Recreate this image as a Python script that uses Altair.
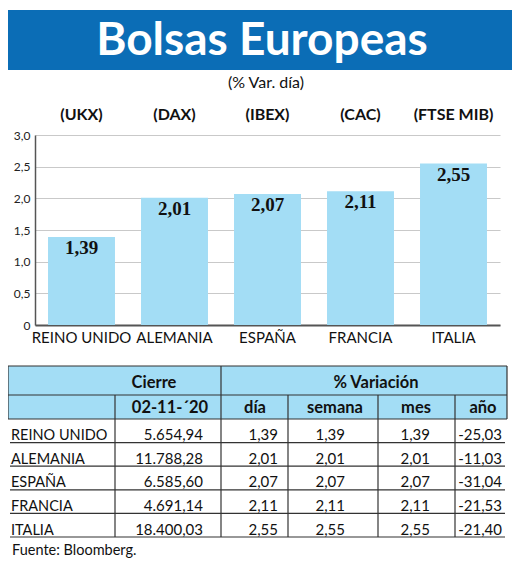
import altair as alt
import pandas as pd

# ---------------- data ----------------
countries = ["REINO UNIDO", "ALEMANIA", "ESPAÑA", "FRANCIA", "ITALIA"]
tickers = ["(UKX)", "(DAX)", "(IBEX)", "(CAC)", "(FTSE MIB)"]
var_dia = [1.39, 2.01, 2.07, 2.11, 2.55]
y_ticks = [0.0, 0.5, 1.0, 1.5, 2.0, 2.5, 3.0]

cierre = ["5.654,94", "11.788,28", "6.585,60", "4.691,14", "18.400,03"]
dia = ["1,39", "2,01", "2,07", "2,11", "2,55"]
semana = ["1,39", "2,01", "2,07", "2,11", "2,55"]
mes = ["1,39", "2,01", "2,07", "2,11", "2,55"]
anio = ["-25,03", "-11,03", "-31,04", "-21,53", "-21,40"]

header1 = ["Cierre", "% Variación"]
header2 = ["02-11-´20", "día", "semana", "mes", "año"]

title_text = "Bolsas Europeas"
subtitle_text = "(% Var. día)"
source_text = "Fuente: Bloomberg."

# ---------------- layout / style ----------------
PLOT_W, PLOT_H = 465, 190
PAD = {"left": 27, "top": 127, "right": 12, "bottom": 234}
BLUE = "#0b6db6"
LIGHT = "#a3ddf5"
LINE = "#333333"
FN = "Lato, 'DejaVu Sans Condensed', sans-serif"
FS = "'Liberation Serif', 'DejaVu Serif', serif"

# table geometry (table units -> pixels via its own scales)
T_W, T_H = 499, 171
TX = alt.Scale(domain=[0, T_W], range=[-27, 472])
TY = alt.Scale(domain=[0, T_H], range=[231, 402])
col_edges = [0, 107, 213, 280, 370, 447, 499]
h1_x = [146, 368]
h2_x = [162, 247, 327, 408, 475]
num_x = [195, 270, 337, 422, 494]
H1_B, H2_B = 29, 53
ROW_H = (T_H - H2_B) / 5

# ---------------- bar chart ----------------
bars_df = pd.DataFrame({"pais": countries, "ticker": tickers, "v": var_dia})
x_axis = alt.Axis(labelAngle=0, labelFont=FN, labelFontSize=15,
                  labelColor="#111", labelPadding=5, ticks=False,
                  domainColor="#555", domainWidth=2, grid=False,
                  labelOverlap=False)
y_axis = alt.Axis(values=y_ticks, ticks=False, labelFont=FN,
                  labelFontSize=12, labelColor="#222", labelPadding=5,
                  labelOverlap=False, tickCount=7,
                  labelExpr="datum.value == 0 ? '0' : replace(format(datum.value, '.1f'), '.', ',')",
                  domainColor="#555", domainWidth=1.5,
                  gridColor="#c9c9c9", gridWidth=1)
x_scale = alt.Scale(paddingInner=0.28, paddingOuter=0.14)
y_scale = alt.Scale(domain=[0, 3], nice=False)
xs = alt.X("pais:N", sort=countries, title=None, scale=x_scale, axis=x_axis)
ys = alt.Y("v:Q", title=None, scale=y_scale, axis=y_axis)

base = alt.Chart(bars_df)
bars = base.mark_bar(color=LIGHT).encode(x=xs, y=ys)
vals = base.transform_calculate(
    lab="replace(format(datum.v, '.2f'), '.', ',')"
).mark_text(font=FS, fontWeight="bold", fontSize=19, color="#111",
            baseline="alphabetic", dy=17).encode(x=xs, y=ys, text="lab:N")
tick_lbl = base.mark_text(font=FN, fontWeight="bold", fontSize=16, color="#111",
                          baseline="alphabetic").encode(
    x=xs, y=alt.value(-15), text="ticker:N")
bar_layer = alt.layer(bars, vals, tick_lbl)

# ---------------- header decorations ----------------
one = pd.DataFrame({"t": [title_text], "s": [subtitle_text], "f": [source_text]})
dec = alt.Chart(one)
title_box = dec.mark_rect(color=BLUE).encode(
    x=alt.value(-27), x2=alt.value(477), y=alt.value(-125), y2=alt.value(-65))
title = dec.mark_text(font=FN, fontWeight="bold", fontSize=46, color="white",
                      baseline="alphabetic", align="center").encode(
    x=alt.value(227), y=alt.value(-80), text="t:N")
subtitle = dec.mark_text(font=FN, fontSize=16, color="#111",
                         baseline="alphabetic", align="center").encode(
    x=alt.value(231), y=alt.value(-47), text="s:N")
source = dec.mark_text(font=FN, fontSize=14.5, color="#111",
                       baseline="alphabetic", align="left").encode(
    x=alt.value(-23), y=alt.value(420), text="f:N")
dec_layer = alt.layer(title_box, title, subtitle, source)

# ---------------- table ----------------
fill_df = pd.DataFrame({"x": [0], "x2": [T_W], "y": [0], "y2": [H2_B]})
rules = []
rules += [(0, T_W, 0, 0), (0, T_W, H1_B, H1_B), (0, T_W, H2_B, H2_B)]
rules += [(0, 0, 0, H2_B), (T_W, T_W, 0, H2_B), (col_edges[2], col_edges[2], 0, T_H)]
for e in [col_edges[1], col_edges[3], col_edges[4], col_edges[5]]:
    rules.append((e, e, H1_B, T_H))
for i in range(5):
    yb = H2_B + ROW_H * (i + 1)
    rules.append((2, T_W - 2, yb, yb))
rules_df = pd.DataFrame(rules, columns=["x", "x2", "y", "y2"])

hdr_rows = [(t, x, H1_B - 7) for t, x in zip(header1, h1_x)]
hdr_rows += [(t, x, H2_B - 6) for t, x in zip(header2, h2_x)]
hdr_df = pd.DataFrame(hdr_rows, columns=["text", "x", "y"])

ctry_df = pd.DataFrame({"text": countries, "x": [3] * 5,
                        "y": [H2_B + ROW_H * (i + 1) - 2.5 for i in range(5)]})
num_rows = []
for i in range(5):
    yb = H2_B + ROW_H * (i + 1) - 2.5
    for col, x in zip([cierre, dia, semana, mes, anio], num_x):
        num_rows.append((col[i], x, yb))
num_df = pd.DataFrame(num_rows, columns=["text", "x", "y"])

t_fill = alt.Chart(fill_df).mark_rect(color=LIGHT).encode(
    x=alt.X("x:Q", scale=TX, axis=None), x2="x2:Q",
    y=alt.Y("y:Q", scale=TY, axis=None), y2="y2:Q")
t_rules = alt.Chart(rules_df).mark_rule(color=LINE, strokeWidth=1.2).encode(
    x=alt.X("x:Q", scale=TX, axis=None), x2="x2:Q",
    y=alt.Y("y:Q", scale=TY, axis=None), y2="y2:Q")
t_hdr = alt.Chart(hdr_df).mark_text(font=FN, fontWeight="bold", fontSize=16.5,
                                    color="#111", align="center",
                                    baseline="alphabetic").encode(
    x=alt.X("x:Q", scale=TX, axis=None), y=alt.Y("y:Q", scale=TY, axis=None),
    text="text:N")
t_ctry = alt.Chart(ctry_df).mark_text(font=FN, fontSize=14.5, color="#111",
                                      align="left", baseline="alphabetic").encode(
    x=alt.X("x:Q", scale=TX, axis=None), y=alt.Y("y:Q", scale=TY, axis=None),
    text="text:N")
t_num = alt.Chart(num_df).mark_text(font=FN, fontSize=15, color="#111",
                                    align="right", baseline="alphabetic").encode(
    x=alt.X("x:Q", scale=TX, axis=None), y=alt.Y("y:Q", scale=TY, axis=None),
    text="text:N")
table_layer = alt.layer(t_fill, t_rules, t_hdr, t_ctry, t_num)

chart = alt.layer(bar_layer, dec_layer, table_layer).resolve_scale(
    x="independent", y="independent"
).properties(
    width=PLOT_W, height=PLOT_H, padding=PAD,
    autosize=alt.AutoSizeParams(type="none"), background="white"
).configure_view(stroke=None)

chart.save("out.html", embed_options={"renderer": "svg", "actions": False})
